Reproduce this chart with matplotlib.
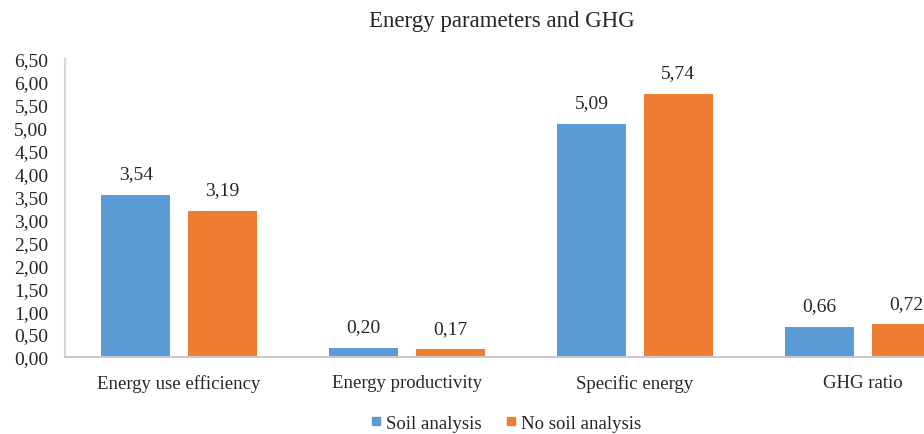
import matplotlib
matplotlib.use("Agg")
import matplotlib.pyplot as plt
from matplotlib.lines import Line2D
import numpy as np

categories = ["Energy use efficiency", "Energy productivity", "Specific energy", "GHG ratio"]
soil = [3.54, 0.20, 5.09, 0.66]
no_soil = [3.19, 0.17, 5.74, 0.72]
series_names = ["Soil analysis", "No soil analysis"]
yticks = [0.0, 0.5, 1.0, 1.5, 2.0, 2.5, 3.0, 3.5, 4.0, 4.5, 5.0, 5.5, 6.0, 6.5]

plt.rcParams['font.family'] = ['Liberation Serif', 'DejaVu Serif']
blue = "#5B9BD5"
orange = "#ED7D31"
txt = "#262626"

fig = plt.figure(figsize=(9.24, 4.35), dpi=100)
W, H = 924, 435
left, right, top, bottom = 65, 977, 60, 358
ax = fig.add_axes([left / W, (H - bottom) / H, (right - left) / W, (bottom - top) / H])

x = np.arange(len(categories))
bw = 0.30
off = 0.19
b1 = ax.bar(x - off, soil, bw, color=blue)
b2 = ax.bar(x + off, no_soil, bw, color=orange)

def fmt(v):
    return f"{v:.2f}".replace(".", ",")

for bars, vals in ((b1, soil), (b2, no_soil)):
    for r, v in zip(bars, vals):
        ax.annotate(fmt(v), (r.get_x() + r.get_width() / 2, v), xytext=(0, 15),
                    textcoords="offset points", ha="center", va="center",
                    fontsize=14, color=txt)

ax.set_xlim(-0.5, len(categories) - 0.5)
ax.set_ylim(0, 6.5)
ax.set_yticks(yticks)
ax.set_yticklabels([fmt(v) for v in yticks], fontsize=14, color=txt)
ax.set_xticks(x)
ax.set_xticklabels(categories, fontsize=13.5, color=txt)
ax.tick_params(axis='both', length=0)
ax.tick_params(axis='x', pad=12)
ax.tick_params(axis='y', pad=12)
for s in ("top", "right"):
    ax.spines[s].set_visible(False)
ax.spines["left"].set_color("#D9D9D9")
ax.spines["left"].set_linewidth(1.5)
ax.spines["bottom"].set_color("#C8C8C8")
ax.spines["bottom"].set_linewidth(1.5)

fig.text(502 / W, 1 - 22 / H, "Energy parameters and GHG", ha="center", va="center",
         fontsize=16.5, color=txt)

handles = [Line2D([0], [0], marker="s", color="none", markerfacecolor=c, markeredgecolor=c,
                  markersize=6) for c in (blue, orange)]
fig.legend(handles, series_names, loc="center", bbox_to_anchor=(505 / W, 1 - 424 / H),
           ncol=2, frameon=False, fontsize=13.5, handletextpad=0.1, columnspacing=1.2,
           handlelength=0.8, labelcolor=txt)

fig.savefig("out.png", dpi=100)
